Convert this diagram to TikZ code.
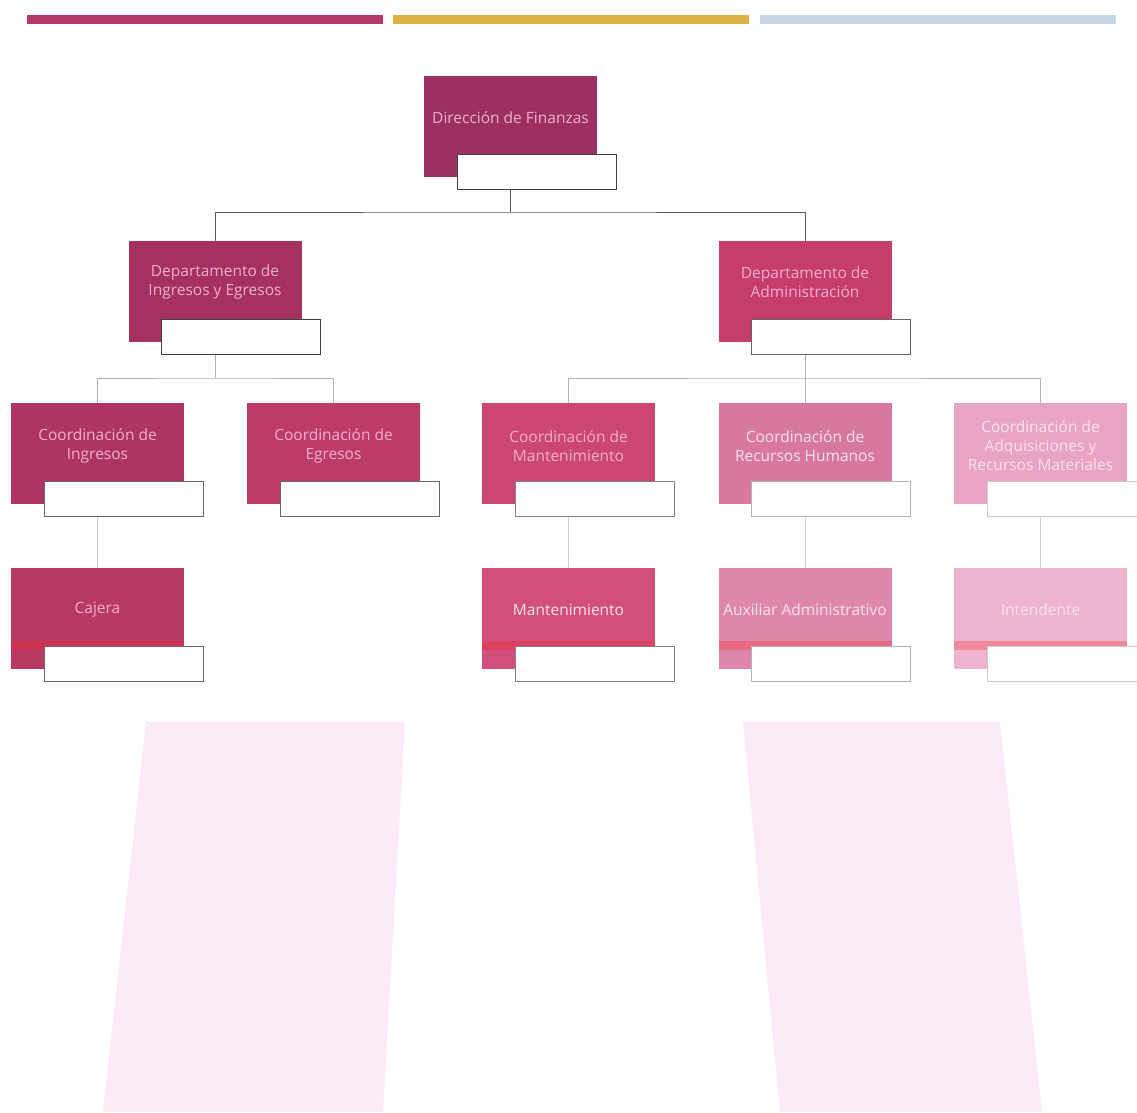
\documentclass[tikz,border=0pt]{standalone}
\usepackage{fontspec}
\setmainfont{Open Sans}

\definecolor{barmag}{HTML}{B8386A}
\definecolor{baryel}{HTML}{DDB044}
\definecolor{barblu}{HTML}{C4D6E2}
\definecolor{cdir}{HTML}{9C3060}
\definecolor{cing}{HTML}{A4315F}
\definecolor{cadm}{HTML}{C63C6C}
\definecolor{ccing}{HTML}{AE3563}
\definecolor{cceg}{HTML}{BC3B69}
\definecolor{ccman}{HTML}{CC4673}
\definecolor{ccrh}{HTML}{D9789E}
\definecolor{ccadq}{HTML}{E9A3C3}
\definecolor{ccaj}{HTML}{B83966}
\definecolor{cman}{HTML}{D24E7C}
\definecolor{caux}{HTML}{DE87AB}
\definecolor{cint}{HTML}{EDB3CF}
\definecolor{txtpink}{HTML}{F3B0CB}
\definecolor{txtlight}{HTML}{FBE4EE}
\definecolor{bgpink}{HTML}{FCEBF7}

\begin{document}
\begin{tikzpicture}[x=1pt, y=-1pt]
        \tikzstyle{every node}=[inner sep=0pt, outer sep=0pt]
        \tikzstyle{unit}=[rectangle, minimum width=173pt, minimum height=101pt]
        \tikzstyle{namebox}=[rectangle, fill=white, draw=black!75, line width=0.9pt, minimum width=159pt, minimum height=35pt, anchor=north west]
        \tikzstyle{txt}=[font=\fontsize{15.5}{19}\selectfont, align=center, text=txtpink]
        \tikzstyle{link}=[draw=black!65, line width=0.8pt]
        \tikzstyle{sublink}=[draw=black!30, line width=0.7pt]
        \tikzstyle{band}=[fill=red!80!pink, opacity=0.3]
        \useasboundingbox (0,0) rectangle (1137,1112);
        % colour bars
        \fill[barmag] (27,15) rectangle (383,24);
        \fill[baryel] (393,15) rectangle (749,24);
        \fill[barblu] (760,15) rectangle (1116,24);
        % background shapes
        \fill[bgpink] (146,722) -- (405,722) -- (383,1112) -- (103,1112) -- cycle;
        \fill[bgpink] (743,722) -- (1000,722) -- (1042,1112) -- (780,1112) -- cycle;
        % level 1
        \node[unit, fill=cdir] (dir) at (510.5,126) {};
        \node[txt] (dirtxt) at ([yshift=8pt]dir.center) {Dirección de Finanzas};
        \node[namebox] (dirname) at ([shift={(33,79)}]dir.north west) {};
        % level 2
        \node[unit, fill=cing] (ing) at (215,291) {};
        \node[txt] (ingtxt) at ([yshift=9pt]ing.center) {Departamento de\\Ingresos y Egresos};
        \node[namebox] (ingname) at ([shift={(33,79)}]ing.north west) {};
        \node[unit, fill=cadm] (adm) at (805,291) {};
        \node[txt] (admtxt) at ([yshift=9pt]adm.center) {Departamento de\\Administración};
        \node[namebox, draw=black!60] (admname) at ([shift={(33,79)}]adm.north west) {};
        % level 3
        \node[unit, fill=ccing] (cing) at (97.5,453) {};
        \node[txt] (cingtxt) at ([yshift=7pt]cing.center) {Coordinación de\\Ingresos};
        \node[namebox, draw=black!60] (cingname) at ([shift={(33,79)}]cing.north west) {};
        \node[unit, fill=cceg] (ceg) at (333.5,453) {};
        \node[txt] (cegtxt) at ([yshift=7pt]ceg.center) {Coordinación de\\Egresos};
        \node[namebox, draw=black!60] (cegname) at ([shift={(33,79)}]ceg.north west) {};
        \node[unit, fill=ccman] (cman) at (568.5,453) {};
        \node[txt] (cmantxt) at ([yshift=7pt]cman.center) {Coordinación de\\Mantenimiento};
        \node[namebox, draw=black!50] (cmanname) at ([shift={(33,79)}]cman.north west) {};
        \node[unit, fill=ccrh] (crh) at (805,453) {};
        \node[txt, text=txtlight] (crhtxt) at ([yshift=7pt]crh.center) {Coordinación de\\Recursos Humanos};
        \node[namebox, draw=black!30] (crhname) at ([shift={(33,79)}]crh.north west) {};
        \node[unit, fill=ccadq] (cadq) at (1040.5,453) {};
        \node[txt, text=txtlight] (cadqtxt) at ([yshift=7pt]cadq.center) {Coordinación de\\Adquisiciones y\\Recursos Materiales};
        \node[namebox, draw=black!20] (cadqname) at ([shift={(33,79)}]cadq.north west) {};
        % level 4
        \node[unit, fill=ccaj] (caj) at (97.5,618) {};
        \node[unit, fill=cman] (man) at (568.5,618) {};
        \node[unit, fill=caux] (aux) at (805,618) {};
        \node[unit, fill=cint] (int) at (1040.5,618) {};
        \foreach \n in {caj,man,aux,int}
            \fill[band] (\n.west |- 0,641) rectangle (\n.east |- 0,650);
        \node[txt] (cajtxt) at ([yshift=8pt]caj.center) {Cajera};
        \node[txt, text=txtlight] (mantxt) at ([yshift=8pt]man.center) {Mantenimiento};
        \node[txt, text=txtlight] (auxtxt) at ([yshift=8pt]aux.center) {Auxiliar Administrativo};
        \node[txt, text=txtlight] (inttxt) at ([yshift=8pt]int.center) {Intendente};
        \node[namebox, draw=black!60] (cajname) at ([shift={(33,79)}]caj.north west) {};
        \node[namebox, draw=black!50] (manname) at ([shift={(33,79)}]man.north west) {};
        \node[namebox, draw=black!30] (auxname) at ([shift={(33,79)}]aux.north west) {};
        \node[namebox, draw=black!20] (intname) at ([shift={(33,79)}]int.north west) {};
        % connectors
        \coordinate (j1) at (dir.center |- 0,212);
        \draw[link] (dir.center |- dirname.south) -- (j1);
        \draw[link] (ing.north) |- (j1) -| (adm.north);
        \coordinate (j2) at (ing.center |- 0,378);
        \draw[sublink] (ing.center |- ingname.south) -- (j2);
        \draw[sublink] (cing.north) |- (j2) -| (ceg.north);
        \coordinate (j3) at (adm.center |- 0,378);
        \draw[sublink] (adm.center |- admname.south) -- (j3) -- (crh.north);
        \draw[sublink] (cman.north) |- (j3) -| (cadq.north);
        \foreach \a/\b in {cing/caj,cman/man,crh/aux,cadq/int}
            \draw[sublink, draw=black!20] (\a.center |- \a name.south) -- (\b.north);
    \end{tikzpicture}
\end{document}
